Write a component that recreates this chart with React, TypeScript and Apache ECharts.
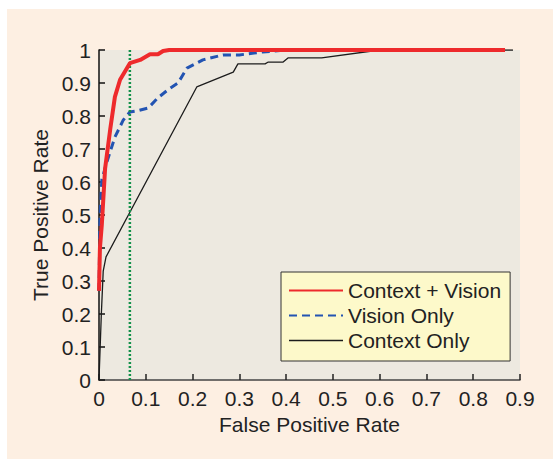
import React, { useEffect, useRef } from "react";
import * as echarts from "echarts";

const xTicks = [0, 0.1, 0.2, 0.3, 0.4, 0.5, 0.6, 0.7, 0.8, 0.9];
const yTicks = [0, 0.1, 0.2, 0.3, 0.4, 0.5, 0.6, 0.7, 0.8, 0.9, 1];

const seriesNames = ["Context + Vision", "Vision Only", "Context Only"];

const cvFpr = [0, 0.002, 0.006, 0.013, 0.024, 0.034, 0.045, 0.066, 0.088, 0.109, 0.126, 0.137, 0.15, 0.868];
const cvTpr = [0.27, 0.4, 0.47, 0.64, 0.76, 0.858, 0.91, 0.96, 0.97, 0.987, 0.987, 0.997, 1, 1];

const vFpr = [0, 0.002, 0.006, 0.016, 0.034, 0.052, 0.066, 0.08, 0.105, 0.126, 0.147, 0.169, 0.188, 0.222, 0.265, 0.3, 0.35, 0.4, 0.42];
const vTpr = [0.27, 0.49, 0.606, 0.657, 0.736, 0.788, 0.812, 0.815, 0.824, 0.855, 0.879, 0.9, 0.945, 0.97, 0.985, 0.985, 0.994, 1, 1];

const cFpr = [0, 0.005, 0.009, 0.015, 0.209, 0.287, 0.297, 0.355, 0.361, 0.393, 0.404, 0.476, 0.6, 0.885];
const cTpr = [0, 0.2, 0.33, 0.373, 0.888, 0.933, 0.958, 0.958, 0.963, 0.963, 0.976, 0.976, 1, 1];

const thresholdFpr = 0.066;
const thresholdRange = [0, 1];

const zip = (xs: number[], ys: number[]) => xs.map((x, i) => [x, ys[i]]);

const FONT = "'Liberation Sans', Arial, Helvetica, sans-serif";

export default function App() {
  const ref = useRef<HTMLDivElement>(null);
  useEffect(() => {
    if (!ref.current) return;
    const chart = echarts.init(ref.current, null, { renderer: "svg" });
    const fmt = (v: number) => String(+v.toFixed(1));
    chart.setOption({
      animation: false,
      backgroundColor: "#fdefe2",
      textStyle: { fontFamily: FONT },
      grid: {
        left: 92,
        top: 41,
        right: 33,
        bottom: 79,
        show: true,
        backgroundColor: "#ede9e0",
        borderWidth: 0,
      },
      xAxis: {
        type: "value",
        min: xTicks[0],
        max: xTicks[xTicks.length - 1],
        interval: 0.1,
        name: "False Positive Rate",
        nameLocation: "middle",
        nameGap: 33,
        nameTextStyle: { fontSize: 21, color: "#222", fontFamily: FONT },
        axisLine: { show: true, onZero: false, lineStyle: { color: "#444", width: 1.5 } },
        axisTick: { show: true, inside: true, length: 6, lineStyle: { color: "#222", width: 1.5 } },
        axisLabel: { fontSize: 21, color: "#222", margin: 8, formatter: fmt, fontFamily: FONT },
        splitLine: { show: false },
      },
      yAxis: {
        type: "value",
        min: yTicks[0],
        max: yTicks[yTicks.length - 1],
        interval: 0.1,
        name: "True Positive Rate",
        nameLocation: "middle",
        nameGap: 45,
        nameTextStyle: { fontSize: 21, color: "#222", fontFamily: FONT },
        axisLine: { show: true, onZero: false, lineStyle: { color: "#111", width: 1.5 } },
        axisTick: { show: true, inside: true, length: 6, lineStyle: { color: "#111", width: 1.5 } },
        axisLabel: { fontSize: 21, color: "#222", margin: 8, formatter: fmt, fontFamily: FONT },
        splitLine: { show: false },
      },
      legend: {
        orient: "vertical",
        left: 274,
        top: 263,
        backgroundColor: "#fdf9ca",
        borderColor: "#333",
        borderWidth: 1,
        borderRadius: 0,
        padding: [8, 9, 10, 7],
        itemWidth: 54,
        itemHeight: 14,
        itemGap: 4,
        itemStyle: { opacity: 0 },
        textStyle: { fontSize: 21, color: "#222", fontFamily: FONT },
        data: [
          { name: seriesNames[0], lineStyle: { width: 2 } },
          { name: seriesNames[1], lineStyle: { width: 2 } },
          { name: seriesNames[2], lineStyle: { width: 1.5 } },
        ],
      },
      series: [
        {
          name: seriesNames[2],
          type: "line",
          symbol: "none",
          data: zip(cFpr, cTpr),
          color: "#1c1c1c",
          lineStyle: { color: "#1c1c1c", width: 1.3 },
          z: 2,
        },
        {
          name: seriesNames[1],
          type: "line",
          symbol: "none",
          data: zip(vFpr, vTpr),
          color: "#2354b2",
          lineStyle: { color: "#2354b2", width: 3, type: [8, 5] },
          z: 3,
        },
        {
          name: "threshold",
          type: "line",
          symbol: "none",
          data: thresholdRange.map((y) => [thresholdFpr, y]),
          color: "#13914a",
          lineStyle: { color: "#13914a", width: 2.5, type: [2, 2] },
          z: 4,
        },
        {
          name: seriesNames[0],
          type: "line",
          symbol: "none",
          data: zip(cvFpr, cvTpr),
          color: "#ee2a2c",
          lineStyle: { color: "#ee2a2c", width: 4 },
          z: 5,
        },
      ],
    });
    return () => chart.dispose();
  }, []);
  return (
    <div style={{ position: "absolute", left: 0, top: 0, width: 553, height: 459, background: "#fff" }}>
      <div ref={ref} style={{ position: "absolute", left: 7, top: 9, width: 546, height: 450 }} />
    </div>
  );
}
